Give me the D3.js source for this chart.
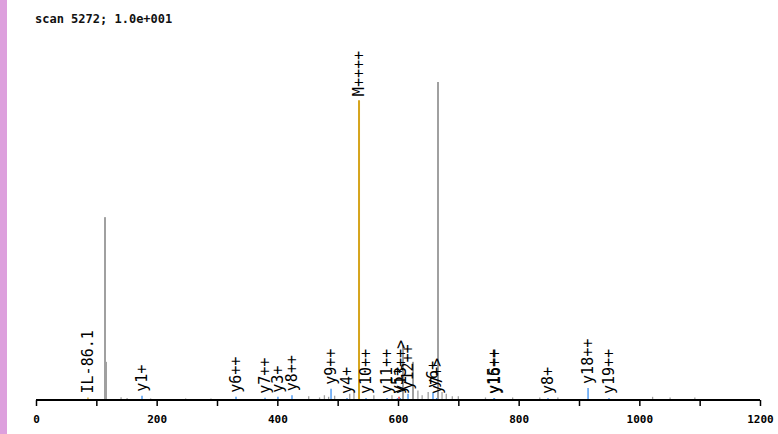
<!DOCTYPE html>
<html><head><meta charset="utf-8">
<script src="https://cdn.jsdelivr.net/npm/d3@7"></script>
<style>
html,body{margin:0;padding:0;background:#fff;}
svg{display:block;}
</style></head>
<body>
<script>
// ---- data ----
const titleText = "scan 5272; 1.0e+001";
const xTicks = [0,100,200,300,400,500,600,700,800,900,1000,1100,1200];
const xTickLabels = [0,200,400,600,800,1000,1200];

// unassigned (gray) peaks
const grayMz  = [75,114.4,116,141,151,190,248,290,452,470,478,485,495,520,527,560,590,608.3,624.9,633,640,650,666.3,673,680,690,700,745,790,835,865,1022,1051,1092];
const grayInt = [0.3,57.5,12,0.9,0.6,0.5,0.5,0.5,1.2,0.8,1.5,1,1.3,2,3,1.5,1.5,17.3,12,3,1.5,2.5,100,2.5,2,1.2,1.2,0.8,0.8,0.8,0.8,1,0.8,0.8];

// precursor / immonium (gold) peaks
const goldMz    = [86.1,535.4];
const goldInt   = [0.8,94.3];
const goldLabel = ["IL-86.1","M++++"];

// fragment (blue) peaks
const blueMz    = [175.7,331.5,379.6,401,424.3,489,515.5,547,581.8,599,604,616.6,658,664,759,760,848.6,915,949.7];
const blueInt   = [1.3,1,0.7,1,1.5,3.5,0.6,0.6,0.6,0.6,0.6,2,2.5,0.6,0.6,0.6,0.6,3.8,0.6];
const blueLabel = ["y1+","y6++","y7++","y3+","y8++","y9++","y4+","y10++","y11++","y5+","y13++>","y12++","y6+","y7+>","y15++","y16++","y8+","y18++","y19++"];

// other (red) peaks
const redMz  = [601.7];
const redInt = [1];

// ---- drawing ----
const W = 778, H = 434;
const svg = d3.select("body").append("svg").attr("width", W).attr("height", H);

svg.append("rect").attr("x",0).attr("y",0).attr("width",7).attr("height",H).attr("fill","#dda0dd");

const x = d3.scaleLinear().domain([0,1200]).range([36,760]);
const y = d3.scaleLinear().domain([0,100]).range([400,82]);

svg.append("text").attr("x",35).attr("y",23)
  .attr("font-family","DejaVu Sans Mono").attr("font-weight","bold").attr("font-size","12px")
  .attr("fill","#111").text(titleText);

function peaks(mz, inten, color, w) {
  svg.append("g").selectAll("line").data(mz.map((m,i)=>({m, v: inten[i]}))).join("line")
    .attr("x1", d=>x(d.m)).attr("x2", d=>x(d.m))
    .attr("y1", y(0)).attr("y2", d=>Math.min(y(d.v), y(0)-1))
    .attr("stroke", color).attr("stroke-width", d => d.v > 5 ? w : 1.3);
}
peaks(grayMz, grayInt, "#a0a0a0", 2);
peaks(redMz, redInt, "#e8201c", 2);
peaks(blueMz, blueInt, "#3a8ff0", 2);
peaks(goldMz, goldInt, "#d6a41c", 2);

function labels(mz, inten, lab) {
  svg.append("g").selectAll("text").data(mz.map((m,i)=>({m, v: inten[i], t: lab[i]}))).join("text")
    .attr("transform", d=>`translate(${x(d.m)},${y(d.v)-4}) rotate(-90)`)
    .attr("dy","0.35em")
    .attr("font-family","DejaVu Sans Mono").attr("font-size","15px")
    .attr("fill","#000").text(d=>d.t);
}
labels(goldMz, goldInt, goldLabel);
labels(blueMz, blueInt, blueLabel);

// axis
const axis = d3.axisBottom(x).tickValues(xTicks).tickSize(6)
  .tickFormat(d => xTickLabels.includes(d) ? d : "");
const ag = svg.append("g").attr("transform","translate(0,400)").call(axis);
ag.select(".domain").attr("stroke","#000").attr("stroke-width",2).attr("d","M36,0H760");
ag.selectAll(".tick line").attr("stroke","#000").attr("stroke-width",1.5);
ag.selectAll(".tick text").attr("font-family","DejaVu Sans Mono").attr("font-weight","bold")
  .attr("font-size","11px").attr("fill","#000").attr("y",15);
</script>
</body></html>
